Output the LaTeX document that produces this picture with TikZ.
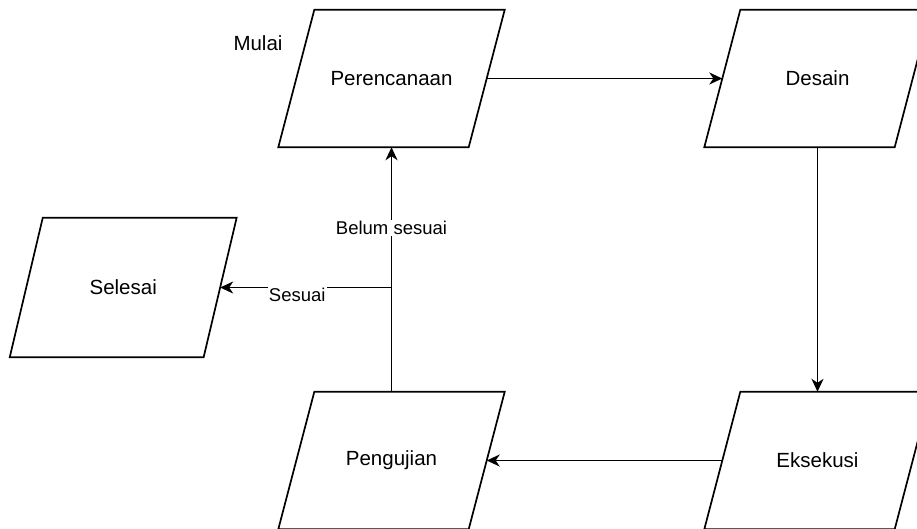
\documentclass[tikz,border=0pt]{standalone}
\usepackage{fontspec}
\setmainfont{Liberation Sans}
\usetikzlibrary{arrows.meta}
\begin{document}
\begin{tikzpicture}[x=1pt,y=-1pt,
  para/.style={rectangle, minimum width=190pt, minimum height=137pt, inner sep=0pt,
    font=\fontsize{20.5}{24}\selectfont},
  shp/.style={line width=1.7pt, line join=miter},
  arr/.style={line width=1.7pt, -{Stealth[length=13pt,width=12pt,inset=4pt]}},
  lbl/.style={fill=white, inner sep=1pt, font=\fontsize{18.5}{22}\selectfont}]
\useasboundingbox (0,0) rectangle (917,528);
\clip (0,0) rectangle (917,528);
\node[para] (P) at (391.5,78.5) {Perencanaan};
\node[para] (D) at (817.5,78.5) {Desain};
\node[para] (E) at (817.5,460.5) {Eksekusi};
\node[para] (G) at (391.5,460.5) {Pengujian};
\node[para, minimum width=193.5pt, minimum height=139pt] (S) at (123.2,287.5) {Selesai};
\foreach \n in {P,D,E,G}
  \draw[shp] ([xshift=18pt]\n.north west) -- ([xshift=18pt]\n.north east)
    -- ([xshift=-18pt]\n.south east) -- ([xshift=-18pt]\n.south west) -- cycle;
\draw[shp] ([xshift=16.5pt]S.north west) -- ([xshift=16.5pt]S.north east)
    -- ([xshift=-16.5pt]S.south east) -- ([xshift=-16.5pt]S.south west) -- cycle;
\node[font=\fontsize{20.5}{24}\selectfont] (M) at (258,43) {Mulai};
\draw[arr] (P.east) -- (D.west);
\draw[arr] (D.south) -- (E.north);
\draw[arr] (E.west) -- (G.east);
\draw[arr] (G.north) -- (P.south) node[lbl, pos=0.669] {Belum sesuai};
\coordinate (br) at (G.north |- S.east);
\draw[arr] (br) -- (S.east) node[lbl, pos=0.55, yshift=-7pt] {Sesuai};
\end{tikzpicture}
\end{document}
